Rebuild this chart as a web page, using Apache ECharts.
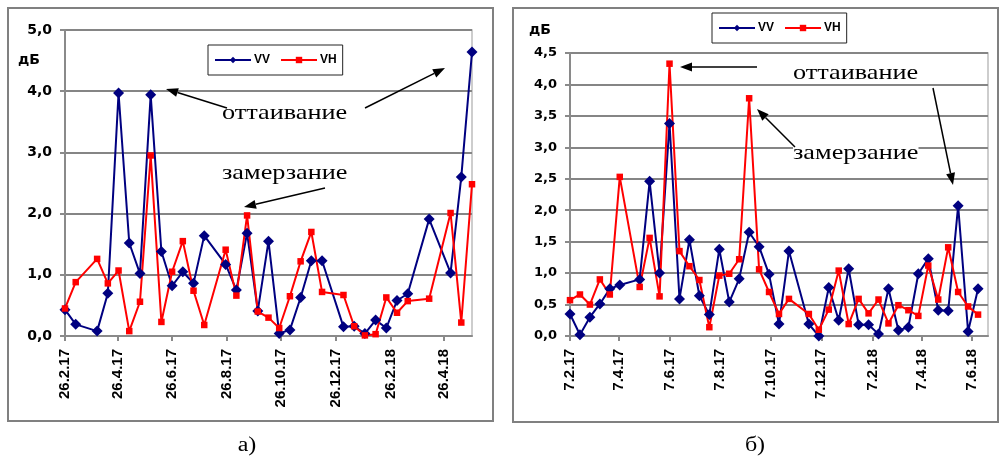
<!DOCTYPE html>
<html>
<head>
<meta charset="utf-8">
<script src="https://cdn.jsdelivr.net/npm/echarts@6/dist/echarts.min.js"></script>
<style>
  html, body { margin: 0; padding: 0; background: #fff; }
  #chart { width: 1004px; height: 463px; }
</style>
</head>
<body>
<div id="chart"></div>
<script>
// Measurement series: one value every 12 days, null where a pass is missing.
const stepDays = 12;

// Panel а) — series start 26.2.17
const leftStart = '26.2.17';
const leftTickLabels = ['26.2.17', '26.4.17', '26.6.17', '26.8.17', '26.10.17', '26.12.17', '26.2.18', '26.4.18'];
const leftVV = [0.43, 0.19, null, 0.08, 0.70, 3.97, 1.52, 1.02, 3.94, 1.38, 0.82, 1.05, 0.86, 1.64, null, 1.17,
                0.75, 1.68, 0.41, 1.55, 0.04, 0.10, 0.63, 1.23, 1.23, null, 0.15, 0.16, 0.04, 0.26, 0.13, 0.58,
                0.69, null, 1.91, null, 1.03, 2.60, 4.64];
const leftVH = [0.45, 0.88, null, 1.26, 0.86, 1.07, 0.08, 0.56, 2.95, 0.23, 1.05, 1.55, 0.74, 0.18, null, 1.41,
                0.66, 1.97, 0.40, 0.30, 0.13, 0.65, 1.22, 1.70, 0.72, null, 0.67, 0.16, 0.01, 0.03, 0.63, 0.38,
                0.57, null, 0.61, null, 2.01, 0.22, 2.48];

// Panel б) — series start 7.2.17
const rightStart = '7.2.17';
const rightTickLabels = ['7.2.17', '7.4.17', '7.6.17', '7.8.17', '7.10.17', '7.12.17', '7.2.18', '7.4.18', '7.6.18'];
const rightVV = [0.35, 0.02, 0.30, 0.51, 0.75, 0.81, null, 0.90, 2.46, 1.00, 3.38, 0.59, 1.53, 0.64, 0.34, 1.38,
                 0.54, 0.91, 1.65, 1.42, 0.98, 0.19, 1.35, null, 0.19, 0.00, 0.77, 0.25, 1.07, 0.18, 0.18, 0.03,
                 0.75, 0.09, 0.14, 0.99, 1.23, 0.41, 0.40, 2.07, 0.07, 0.75];
const rightVH = [0.57, 0.66, 0.50, 0.90, 0.66, 2.53, null, 0.78, 1.56, 0.63, 4.33, 1.35, 1.11, 0.89, 0.14, 0.96,
                 0.99, 1.22, 3.78, 1.06, 0.70, 0.35, 0.59, null, 0.35, 0.10, 0.42, 1.04, 0.19, 0.59, 0.36, 0.58,
                 0.20, 0.49, 0.41, 0.32, 1.12, 0.58, 1.41, 0.70, 0.47, 0.34];

// 'd.m.yy' -> days since the given start date
function toUTC(label) {
  const [d, m, y] = label.split('.').map(Number);
  return Date.UTC(2000 + y, m - 1, d);
}
function dayOffset(label, start) {
  return Math.round((toUTC(label) - toUTC(start)) / 86400000);
}
function toPairs(values) {
  const out = [];
  values.forEach((v, i) => { if (v !== null) out.push([i * stepDays, v]); });
  return out;
}

const leftTickDays = leftTickLabels.map(l => dayOffset(l, leftStart));
const rightTickDays = rightTickLabels.map(l => dayOffset(l, rightStart));

const AX = '#8a8a8a';
const BLUE = '#000080';
const RED = '#ff0000';
const SANS = 'Liberation Sans';

function xAxisFor(gridIndex, tickDays, tickLabels, max) {
  return {
    gridIndex, type: 'value', min: 0, max,
    axisLine: { show: true, onZero: false, lineStyle: { color: AX, width: 2 } },
    axisTick: { show: true, customValues: tickDays, length: 5, lineStyle: { color: AX, width: 2 } },
    axisLabel: {
      customValues: tickDays, rotate: 90, margin: 13,
      formatter: v => tickLabels[tickDays.indexOf(Math.round(v))] || '',
      fontFamily: SANS, fontWeight: 'bold', fontSize: 15, color: '#000'
    },
    splitLine: { show: false }
  };
}
function yAxisFor(gridIndex, max, interval, fontSize) {
  return {
    gridIndex, type: 'value', min: 0, max, interval,
    axisLine: { show: true, lineStyle: { color: AX, width: 2 } },
    axisTick: { show: true, length: 5, lineStyle: { color: AX, width: 2 } },
    axisLabel: {
      margin: 13, formatter: v => v.toFixed(1).replace('.', ','),
      fontFamily: 'DejaVu Sans', fontWeight: 'bold', fontSize, color: '#000'
    },
    splitLine: { show: true, lineStyle: { color: '#858585', width: 2 } }
  };
}
function lineSeries(name, gi, values, isVV) {
  return {
    type: 'line', name, xAxisIndex: gi, yAxisIndex: gi,
    data: toPairs(values),
    symbol: isVV ? 'diamond' : 'rect',
    symbolSize: isVV ? 11 : 6.5,
    showAllSymbol: true,
    lineStyle: { color: isVV ? BLUE : RED, width: 2 },
    itemStyle: { color: isVV ? BLUE : RED },
    connectNulls: true
  };
}
function legendAt(left, top) {
  return {
    data: ['VV', 'VH'], left, top, orient: 'horizontal', selectedMode: false,
    itemWidth: 36, itemHeight: 8, itemGap: 10, padding: [9, 6, 9, 6],
    borderColor: '#222', borderWidth: 1, backgroundColor: '#fff',
    textStyle: { fontFamily: SANS, fontWeight: 'bold', fontSize: 12, color: '#000', padding: [0, 0, 0, -2] }
  };
}

// Arrow from (x1,y1) to the tip at (x2,y2)
function arrow(x1, y1, x2, y2) {
  const dx = x2 - x1, dy = y2 - y1, len = Math.hypot(dx, dy);
  const ux = dx / len, uy = dy / len, nx = -uy, ny = ux;
  const hl = 12, hw = 4.5;
  const bx = x2 - ux * hl, by = y2 - uy * hl;
  return [
    { type: 'line', z: 100, shape: { x1, y1, x2: bx, y2: by }, style: { stroke: '#000', lineWidth: 1.5 } },
    { type: 'polygon', z: 100, shape: { points: [[x2, y2], [bx + nx * hw, by + ny * hw], [bx - nx * hw, by - ny * hw]] },
      style: { fill: '#000' } }
  ];
}
function note(text, x, y) {
  return {
    type: 'text', z: 90, x, y, scaleX: 1.25,
    style: { text, fill: '#000', font: '21px "Liberation Serif"', textAlign: 'left', textVerticalAlign: 'middle',
             backgroundColor: '#fff' }
  };
}
function caption(text, x, y) {
  return {
    type: 'text', z: 90, x, y, scaleX: 1.2,
    style: { text, fill: '#000', font: '20px "Liberation Serif"', textAlign: 'center', textVerticalAlign: 'middle' }
  };
}

const chart = echarts.init(document.getElementById('chart'), null, { renderer: 'canvas' });
chart.setOption({
  animation: false,
  backgroundColor: '#fff',
  grid: [
    { left: 65, top: 30, width: 407, height: 306, show: true, borderColor: '#bdbdbd', borderWidth: 1.5 },
    { left: 570, top: 53, width: 418, height: 283, show: true, borderColor: '#bdbdbd', borderWidth: 1.5 }
  ],
  xAxis: [
    xAxisFor(0, leftTickDays, leftTickLabels, (leftVV.length - 1) * stepDays),
    xAxisFor(1, rightTickDays, rightTickLabels, rightVV.length * stepDays)
  ],
  yAxis: [
    yAxisFor(0, 5, 1, 14),
    yAxisFor(1, 4.5, 0.5, 13)
  ],
  legend: [legendAt(208, 45), legendAt(712, 13)],
  series: [
    lineSeries('VV', 0, leftVV, true),
    lineSeries('VH', 0, leftVH, false),
    lineSeries('VV', 1, rightVV, true),
    lineSeries('VH', 1, rightVH, false)
  ],
  graphic: [
    { type: 'rect', z: 1, shape: { x: 8, y: 8, width: 485, height: 413 }, style: { fill: 'none', stroke: '#808080', lineWidth: 2 } },
    { type: 'rect', z: 1, shape: { x: 513, y: 8, width: 485, height: 414 }, style: { fill: 'none', stroke: '#808080', lineWidth: 2 } },
    { type: 'text', z: 90, x: 29, y: 60, style: { text: 'дБ', fill: '#000', font: 'bold 14px "DejaVu Sans"', textAlign: 'center', textVerticalAlign: 'middle' } },
    { type: 'text', z: 90, x: 540, y: 30, style: { text: 'дБ', fill: '#000', font: 'bold 14px "DejaVu Sans"', textAlign: 'center', textVerticalAlign: 'middle' } },
    note('оттаивание', 222, 113),
    note('замерзание', 222, 173),
    note('оттаивание', 793, 73),
    note('замерзание', 793, 153),
    ...arrow(227, 108, 166, 89),
    ...arrow(365, 108, 445, 68),
    ...arrow(325, 188, 244, 207),
    ...arrow(757, 67, 680, 67),
    ...arrow(795, 147, 757, 109),
    ...arrow(933, 88, 953, 185),
    caption('а)', 247, 446),
    caption('б)', 755, 446)
  ]
});
</script>
</body>
</html>
